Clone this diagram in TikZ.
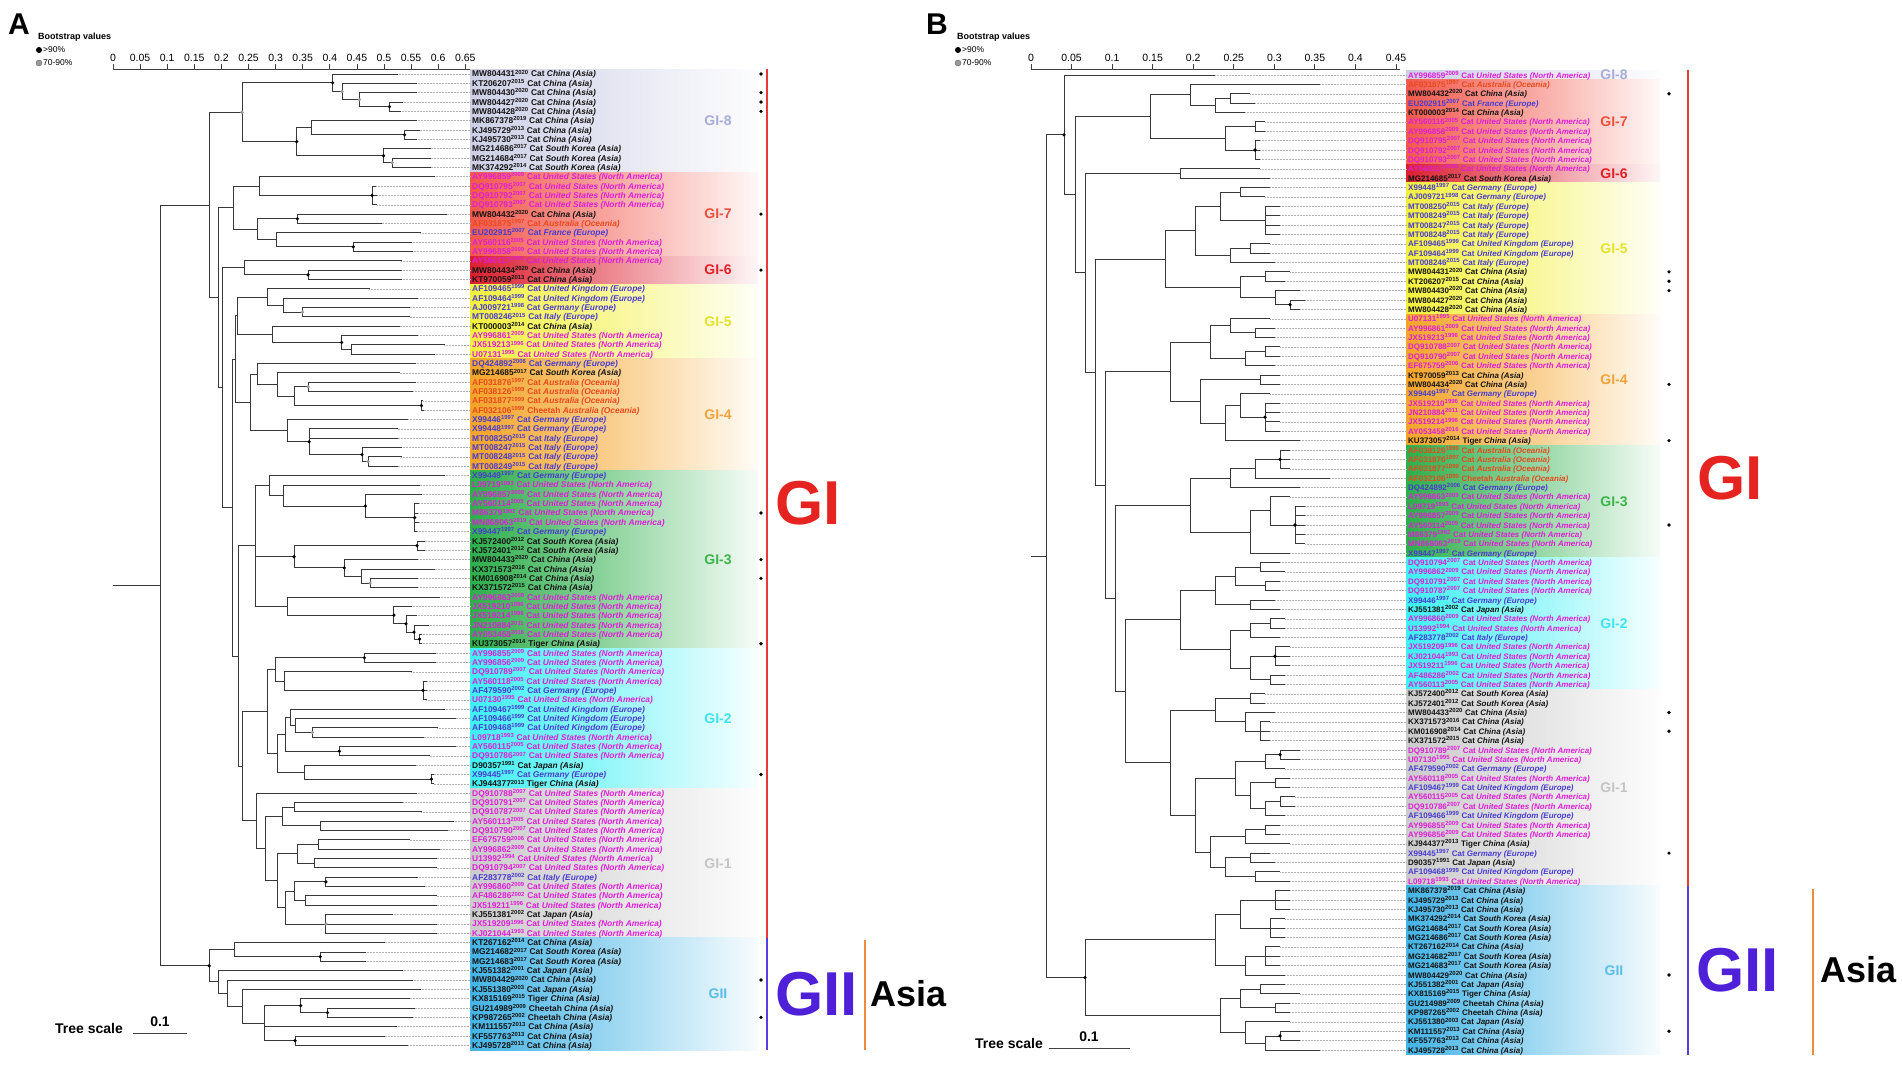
\documentclass[tikz,border=0pt]{standalone}
\usepackage{fontspec}
\setmainfont{Liberation Sans}
\usetikzlibrary{calc}
\definecolor{cA}{HTML}{141414}
\definecolor{cN}{HTML}{E01ED8}
\definecolor{cE}{HTML}{4A3CCF}
\definecolor{cO}{HTML}{E84A1C}
\definecolor{bg8}{HTML}{CDCFE6}
\definecolor{bg7}{HTML}{F2584C}
\definecolor{bg6}{HTML}{DC1E2E}
\definecolor{bg5}{HTML}{F2F03C}
\definecolor{bg4}{HTML}{F4A428}
\definecolor{bg3}{HTML}{2DAE4B}
\definecolor{bg2}{HTML}{3CF0F4}
\definecolor{bg1}{HTML}{CBCBCB}
\definecolor{bgII}{HTML}{43B3E5}
\definecolor{tg8}{HTML}{A9ABD8}
\definecolor{tg7}{HTML}{F0503A}
\definecolor{tg6}{HTML}{E32026}
\definecolor{tg5}{HTML}{E4E22A}
\definecolor{tg4}{HTML}{F2A33A}
\definecolor{tg3}{HTML}{3DB54A}
\definecolor{tg2}{HTML}{3DE4F0}
\definecolor{tg1}{HTML}{C4C4C4}
\definecolor{tgII}{HTML}{5ABCE8}
\definecolor{gired}{HTML}{E52421}
\definecolor{giipur}{HTML}{4E20D8}
\definecolor{lnred}{HTML}{E8383A}
\definecolor{lnblue}{HTML}{5A3FE0}
\definecolor{lnorange}{HTML}{F08A3C}
\def\contA{Asia}\def\contN{North America}\def\contE{Europe}\def\contO{Oceania}
\newcount\rc
\newcommand\la[5]{\global\advance\rc by 1\relax
  \pgfmathsetmacro\ry{\ly+(\the\rc-1)*\ldy}%
  \node[lab,text=c#5] (T\pn\the\rc) at (\lx,\ry+3) {#1\textsuperscript{#2} #3 \textit{#4 (\csname cont#5\endcsname)}};
  \coordinate (E\pn\the\rc) at (\lx-1.5,\ry);}
\newcommand\leaves[2]{\foreach \t [count=\i] in {#2}{%
  \pgfmathsetmacro\ry{\ly+(\i-1)*\ldy}%
  \coordinate (#1\i) at (\t,\ry);
  \draw[lead] (#1\i) -- (E#1\i);}}
\newcommand\clade[3]{%
  \foreach \c [count=\i] in {#3}{\ifnum\i=1 \xdef\cfirst{\c}\fi\xdef\clast{\c}}%
  \coordinate (tmpx) at (#2,0);
  \coordinate (tmpm) at ($(\cfirst)!0.5!(\clast)$);
  \coordinate (#1) at (tmpx |- tmpm);
  \draw[br] (tmpx |- \cfirst) -- (tmpx |- \clast);
  \foreach \c in {#3}{\draw[br] (tmpx |- \c) -- (\c);}}
\newcommand\band[4]{%
  \pgfmathsetmacro\bt{\ly+(#1-1.5)*\ldy}\pgfmathsetmacro\bb{\ly+(#2-0.5)*\ldy}%
  \shade[left color=#3,right color=#3!4] (\lx-2,\bt) rectangle (#4,\bb);}
\newcommand\glab[5]{\node[grp,text=#4] (G\pn#5) at (#3,{\ly+((#1+#2)/2-1)*\ldy}) {#5};}
\newcommand\bsd[1]{\foreach \n in {#1}{\fill[black] (\n) circle[radius=1.8pt];}}
\newcommand\bsg[1]{\foreach \n in {#1}{\fill[black!40] (\n) circle[radius=1.8pt];}}
\newcommand\coldots[2]{\foreach \r in {#2}{\fill[black] (#1,{\ly+(\r-1)*\ldy}) circle[radius=1.8pt];}}
\begin{document}
\begin{tikzpicture}[x=1pt,y=-1pt,
  br/.style={draw=black!78,line width=0.9pt,line cap=rect},
  lead/.style={draw=black!30,densely dotted,line width=0.5pt},
  lab/.style={anchor=base west,inner sep=0pt,font=\fontsize{8.4}{9}\selectfont\bfseries},
  labB/.style={anchor=base west,inner sep=0pt,font=\fontsize{8}{9}\selectfont\bfseries},
  grp/.style={font=\fontsize{14}{14}\selectfont\bfseries,inner sep=0pt},
  big/.style={font=\fontsize{62}{62}\selectfont\bfseries,inner sep=0pt,anchor=west},
  asia/.style={font=\fontsize{36}{36}\selectfont\bfseries,inner sep=0pt,anchor=west},
  tick/.style={font=\fontsize{10.5}{10.5}\selectfont,inner sep=0pt},
  leg/.style={font=\fontsize{8.5}{8.5}\selectfont,inner sep=0pt,anchor=west},
  legt/.style={font=\fontsize{9}{9}\selectfont\bfseries,inner sep=0pt,anchor=west},
  letter/.style={font=\fontsize{30}{30}\selectfont\bfseries,inner sep=0pt},
  tsc/.style={font=\fontsize{14}{14}\selectfont\bfseries,inner sep=0pt}]
\useasboundingbox (0,0) rectangle (1902,1065);
\fill[white] (0,0) rectangle (1902,1065);

%================ PANEL A =================
\def\pn{a}\def\lx{472}\def\ly{74}\def\ldy{9.34}\global\rc=0\relax
\node[letter] (letA) at (19,24) {A};
\node[legt] (bvA) at (38,37) {Bootstrap values};
\node[circle,fill=black,inner sep=0pt,minimum size=6pt] (dkA) at (39,50) {};
\node[leg] (dkAt) at (43,50) {>90\%};
\node[circle,fill=black!40,draw=black!60,inner sep=0pt,minimum size=6pt] (dgA) at (39,63) {};
\node[leg] (dgAt) at (43,63) {70-90\%};
\coordinate (axA0) at (113,69);
\coordinate (axAe) at (470,69);
\draw[black!75,line width=0.8pt] (axA0) -- (axAe);
\foreach \v/\t in {0/0,0.05/0.05,0.1/0.1,0.15/0.15,0.2/0.2,0.25/0.25,0.3/0.3,0.35/0.35,0.4/0.4,0.45/0.45,0.5/0.5,0.55/0.55,0.6/0.6,0.65/0.65}{
  \draw[black!75,line width=0.8pt] (113+\v*542,69) -- (113+\v*542,64);
  \node[tick] at (113+\v*542,58) {\t};}
\node[tsc,anchor=west] (tsA) at (55,1028) {Tree scale};
\coordinate (tsA1) at (133,1033); \coordinate (tsA2) at (187,1033);
\draw[black!75,line width=1pt] (tsA1) -- (tsA2);
\node[tsc] (tsAv) at (160,1022) {0.1};

\band{1}{11}{bg8}{758}\band{12}{20}{bg7}{758}\band{21}{23}{bg6}{758}
\band{24}{31}{bg5}{758}\band{32}{43}{bg4}{758}\band{44}{62}{bg3}{758}
\band{63}{77}{bg2}{758}\band{78}{93}{bg1}{758}\band{94}{105}{bgII}{758}

\la{MW804431}{2020}{Cat}{China}{A}
\la{KT206207}{2015}{Cat}{China}{A}
\la{MW804430}{2020}{Cat}{China}{A}
\la{MW804427}{2020}{Cat}{China}{A}
\la{MW804428}{2020}{Cat}{China}{A}
\la{MK867378}{2019}{Cat}{China}{A}
\la{KJ495729}{2013}{Cat}{China}{A}
\la{KJ495730}{2013}{Cat}{China}{A}
\la{MG214686}{2017}{Cat}{South Korea}{A}
\la{MG214684}{2017}{Cat}{South Korea}{A}
\la{MK374292}{2014}{Cat}{South Korea}{A}
\la{AY996859}{2009}{Cat}{United States}{N}
\la{DQ910795}{2007}{Cat}{United States}{N}
\la{DQ910792}{2007}{Cat}{United States}{N}
\la{DQ910793}{2007}{Cat}{United States}{N}
\la{MW804432}{2020}{Cat}{China}{A}
\la{AF031875}{1997}{Cat}{Australia}{O}
\la{EU202915}{2007}{Cat}{France}{E}
\la{AY560116}{2005}{Cat}{United States}{N}
\la{AY996858}{2009}{Cat}{United States}{N}
\la{AY560117}{2005}{Cat}{United States}{N}
\la{MW804434}{2020}{Cat}{China}{A}
\la{KT970059}{2013}{Cat}{China}{A}
\la{AF109465}{1999}{Cat}{United Kingdom}{E}
\la{AF109464}{1999}{Cat}{United Kingdom}{E}
\la{AJ009721}{1998}{Cat}{Germany}{E}
\la{MT008246}{2015}{Cat}{Italy}{E}
\la{KT000003}{2014}{Cat}{China}{A}
\la{AY996861}{2009}{Cat}{United States}{N}
\la{JX519213}{1996}{Cat}{United States}{N}
\la{U07131}{1995}{Cat}{United States}{N}
\la{DQ424892}{2006}{Cat}{Germany}{E}
\la{MG214685}{2017}{Cat}{South Korea}{A}
\la{AF031876}{1997}{Cat}{Australia}{O}
\la{AF038126}{1999}{Cat}{Australia}{O}
\la{AF031877}{1999}{Cat}{Australia}{O}
\la{AF032106}{1999}{Cheetah}{Australia}{O}
\la{X99446}{1997}{Cat}{Germany}{E}
\la{X99448}{1997}{Cat}{Germany}{E}
\la{MT008250}{2015}{Cat}{Italy}{E}
\la{MT008247}{2015}{Cat}{Italy}{E}
\la{MT008248}{2015}{Cat}{Italy}{E}
\la{MT008249}{2015}{Cat}{Italy}{E}
\la{X99449}{1997}{Cat}{Germany}{E}
\la{L09719}{1993}{Cat}{United States}{N}
\la{AY996857}{2009}{Cat}{United States}{N}
\la{AY560114}{2005}{Cat}{United States}{N}
\la{M86379}{1992}{Cat}{United States}{N}
\la{MN868063}{2019}{Cat}{United States}{N}
\la{X99447}{1997}{Cat}{Germany}{E}
\la{KJ572400}{2012}{Cat}{South Korea}{A}
\la{KJ572401}{2012}{Cat}{South Korea}{A}
\la{MW804433}{2020}{Cat}{China}{A}
\la{KX371573}{2016}{Cat}{China}{A}
\la{KM016908}{2014}{Cat}{China}{A}
\la{KX371572}{2015}{Cat}{China}{A}
\la{AY996863}{2009}{Cat}{United States}{N}
\la{JX519210}{1996}{Cat}{United States}{N}
\la{JX519214}{1996}{Cat}{United States}{N}
\la{JN210884}{2011}{Cat}{United States}{N}
\la{AY053458}{2016}{Cat}{United States}{N}
\la{KU373057}{2014}{Tiger}{China}{A}
\la{AY996855}{2009}{Cat}{United States}{N}
\la{AY996856}{2009}{Cat}{United States}{N}
\la{DQ910789}{2007}{Cat}{United States}{N}
\la{AY560118}{2005}{Cat}{United States}{N}
\la{AF479590}{2002}{Cat}{Germany}{E}
\la{U07130}{1995}{Cat}{United States}{N}
\la{AF109467}{1999}{Cat}{United Kingdom}{E}
\la{AF109466}{1999}{Cat}{United Kingdom}{E}
\la{AF109468}{1999}{Cat}{United Kingdom}{E}
\la{L09718}{1993}{Cat}{United States}{N}
\la{AY560115}{2005}{Cat}{United States}{N}
\la{DQ910786}{2007}{Cat}{United States}{N}
\la{D90357}{1991}{Cat}{Japan}{A}
\la{X99445}{1997}{Cat}{Germany}{E}
\la{KJ944377}{2013}{Tiger}{China}{A}
\la{DQ910788}{2007}{Cat}{United States}{N}
\la{DQ910791}{2007}{Cat}{United States}{N}
\la{DQ910787}{2007}{Cat}{United States}{N}
\la{AY560113}{2005}{Cat}{United States}{N}
\la{DQ910790}{2007}{Cat}{United States}{N}
\la{EF675759}{2006}{Cat}{United States}{N}
\la{AY996862}{2009}{Cat}{United States}{N}
\la{U13992}{1994}{Cat}{United States}{N}
\la{DQ910794}{2007}{Cat}{United States}{N}
\la{AF283778}{2002}{Cat}{Italy}{E}
\la{AY996860}{2009}{Cat}{United States}{N}
\la{AF486286}{2002}{Cat}{United States}{N}
\la{JX519211}{1996}{Cat}{United States}{N}
\la{KJ551381}{2002}{Cat}{Japan}{A}
\la{JX519209}{1996}{Cat}{United States}{N}
\la{KJ021044}{1993}{Cat}{United States}{N}
\la{KT267162}{2014}{Cat}{China}{A}
\la{MG214682}{2017}{Cat}{South Korea}{A}
\la{MG214683}{2017}{Cat}{South Korea}{A}
\la{KJ551382}{2001}{Cat}{Japan}{A}
\la{MW804429}{2020}{Cat}{China}{A}
\la{KJ551380}{2003}{Cat}{Japan}{A}
\la{KX815169}{2015}{Tiger}{China}{A}
\la{GU214989}{2009}{Cheetah}{China}{A}
\la{KP987265}{2002}{Cheetah}{China}{A}
\la{KM111557}{2013}{Cat}{China}{A}
\la{KF557763}{2013}{Cat}{China}{A}
\la{KJ495728}{2013}{Cat}{China}{A}

\leaves{a}{397.2,416.4,416.4,402.3,400.2,416.4,419.7,416.4,430.8,430.8,430.8,
434.1,376,377,377,446.5,381.8,420.4,411.3,412.3,
401.3,401.3,401.3,
369.4,418,409.7,409.7,399.6,418,444.2,434.1,
415.4,399.6,415.4,413,423,423.7,408,397.9,397.9,401.3,401.3,397.9,
444.2,419.7,421.4,419,418,419,417,424.7,424.7,418,434.8,418,418,439.2,411.3,416.4,428.1,421.4,421.4,
435.8,435.8,411.3,427,427,426.4,444.2,455.9,437.1,423.7,455.9,429.8,415.7,433.5,433.5,
416.4,403,421.4,453.2,447.5,409.7,439.8,436.5,436.5,417.4,424.7,436.5,436.5,392.2,436.5,436.5,
384.5,365.4,365.4,402.3,412.3,420.4,409.7,414.7,413,396.2,384.5,408}

% GI-8
\clade{n880}{389.5}{a4,a5}
\clade{n790}{359.4}{a3,n880}
\clade{n738}{342}{a2,n790}
\clade{n710}{332.6}{a1,n738}
\clade{n925}{404.6}{a7,a8}
\clade{n648}{311.8}{a6,n925}
\clade{n888}{392.2}{a10,a11}
\clade{n862}{383.5}{a9,n888}
\clade{n603}{296.7}{n648,n862}
\clade{g8a}{242}{n710,n603}
% GI-7
\clade{n828}{372.1}{a13,a14,a15}
\clade{n493}{259.8}{a12,n828}
\clade{n605}{297.4}{a16,a17}
\clade{n772}{353.3}{a19,a20}
\clade{n543}{276.6}{a18,n772}
\clade{n485b}{257.1}{n605,n543}
\clade{g7a}{233.7}{n493,n485b}
% GI-6
\clade{n637}{308.1}{a22,a23}
\clade{g6a}{244.7}{a21,n637}
% GI-5
\clade{n620}{302.4}{a26,a27}
\clade{n562}{283}{a25,n620}
\clade{n515}{267.2}{a24,n562}
\clade{n765}{351}{a30,a31}
\clade{n737}{341.6}{a29,n765}
\clade{n530}{272.2}{a28,n737}
\clade{g5a}{237}{n515,n530}
% GI-4
\clade{n975}{421.4}{a36,a37}
\clade{n637b}{308.1}{a34,a35}
\clade{n595}{294}{n637b,n975}
\clade{n545}{277.3}{a33,n595}
\clade{n485c}{257.1}{a32,n545}
\clade{n815}{368}{a42,a43}
\clade{n810}{362}{a41,n815}
\clade{n640}{309.1}{a39,a40,n810}
\clade{n575}{287.3}{a38,n640}
\clade{g4a}{250.4}{n485c,n575}
% GI-3
\clade{n955}{414.7}{a47,a48,a49,a50}
\clade{n808}{365.4}{a46,n955}
\clade{n562c}{283}{a45,n808}
\clade{n522}{269.5}{a44,n562c}
\clade{n962}{417}{a51,a52}
\clade{n822}{370.1}{a55,a56}
\clade{n795}{361}{a54,n822}
\clade{n745}{344.3}{a53,n795}
\clade{n595c}{294}{n962,n745}
\clade{n972}{419.6}{a61,a62}
\clade{n960}{414}{a60,n972}
\clade{n935}{406}{a59,n960}
\clade{n893}{393.9}{a58,n935}
\clade{n575c}{287.3}{a57,n893}
\clade{g3a}{255.5}{n522,n595c,n575c}
% GI-2
\clade{n805}{364.4}{a63,a64}
\clade{n980}{423}{a66,a67,a68}
\clade{n565}{284}{a65,n980}
\clade{n540}{275.6}{n805,n565}
\clade{n650}{312.4}{a71,a72}
\clade{n600}{295.7}{a70,n650}
\clade{n597}{290}{a69,n600}
\clade{n730}{339.3}{a73,a74}
\clade{n570}{285.6}{n597,n730}
\clade{n1005}{431.4}{a76,a77}
\clade{n627}{304.7}{a75,n1005}
\clade{n545b}{277.3}{n570,n627}
\clade{g2a}{267.2}{n540,n545b}
% GI-1
\clade{c1}{294.7}{a79,a80}
\clade{c2}{320.8}{a81,a82}
\clade{c3}{282.3}{c1,c2}
\clade{c4}{318.5}{a83,a84}
\clade{c5}{314.1}{a85,a86}
\clade{c6}{297}{c4,c5}
\clade{c7}{325.9}{a87,a88}
\clade{c8}{305.1}{a89,a90}
\clade{c9}{294.7}{c7,c8}
\clade{c10}{325.9}{a91,a92,a93}
\clade{c11}{285.6}{c9,c10}
\clade{c12}{277.3}{c6,c11}
\clade{c13}{265.5}{c3,c12}
\clade{g1a}{256.5}{a78,c13}
% backbone
\clade{Zb}{242}{g2a,g1a}
\clade{Yb}{238}{g3a,Zb}
\clade{Xb}{235}{g5a,g4a}
\clade{B3}{232}{Xb,Yb}
\clade{B2}{222}{g6a,B3}
\clade{B1}{218}{g7a,B2}
\clade{N1}{209.2}{g8a,B1}
% GII
\clade{n673}{320.2}{a95,a96}
\clade{n418}{234.7}{a94,n673}
\clade{m1}{327.5}{a101,a102}
\clade{m2}{300.7}{a100,m1}
\clade{m3}{295}{a104,a105}
\clade{m4}{264.8}{m2,a103,m3}
\clade{m6}{242}{a99,m4}
\clade{m7}{227}{a98,m6}
\clade{m8}{218}{a97,m7}
\clade{gIIa}{209.2}{n418,m8}
\clade{rootA}{160.6}{N1,gIIa}
\draw[br] (rootA) -- (rootA -| axA0);
\bsd{n710,n880,n925,n603,n862,n828,n605,n772,n637,n737,n975,n640,n810,n808,n955,n595c,n745,n962,n893,n935,n960,n972,n805,n980,n1005,n730,c7,m1,m2,m3,gIIa,n673}
\bsg{n738,n790,n888,n620,n637b,n815,n822,n650,c10,g8a}

\glab{1}{11}{718}{tg8}{GI-8}
\glab{12}{20}{718}{tg7}{GI-7}
\glab{21}{23}{718}{tg6}{GI-6}
\glab{24}{31}{718}{tg5}{GI-5}
\glab{32}{43}{718}{tg4}{GI-4}
\glab{44}{62}{718}{tg3}{GI-3}
\glab{63}{77}{718}{tg2}{GI-2}
\glab{78}{93}{718}{tg1}{GI-1}
\glab{94}{105}{718}{tgII}{GII}
\coldots{761}{1,3,4,5,16,22,48,53,55,62,76,98,102}
\coordinate (rA1) at (767,69.3); \coordinate (rA2) at (767,938);
\coordinate (rA3) at (767,1050);
\coordinate (oA1) at (865,940); \coordinate (oA2) at (865,1050);
\draw[lnred,line width=2pt] (rA1) -- (rA2);
\draw[lnblue,line width=2pt] (rA2) -- (rA3);
\draw[lnorange,line width=2pt] (oA1) -- (oA2);
\node[big,text=gired] (GIA) at (775,503) {GI};
\node[big,text=giipur] (GIIA) at (775,994) {GII};
\node[asia] (asiaA) at (870,994) {Asia};

%================ PANEL B =================
\tikzset{lab/.style={labB}}
\def\pn{b}\def\lx{1408}\def\ly{75}\def\ldy{9.375}\global\rc=0\relax
\node[letter] (letB) at (937,24) {B};
\node[legt] (bvB) at (957,37) {Bootstrap values};
\node[circle,fill=black,inner sep=0pt,minimum size=6pt] (dkB) at (958,50) {};
\node[leg] (dkBt) at (962,50) {>90\%};
\node[circle,fill=black!40,draw=black!60,inner sep=0pt,minimum size=6pt] (dgB) at (958,63) {};
\node[leg] (dgBt) at (962,63) {70-90\%};
\coordinate (axB0) at (1031,69);
\coordinate (axBe) at (1400,69);
\draw[black!75,line width=0.8pt] (axB0) -- (axBe);
\foreach \v/\t in {0/0,0.05/0.05,0.1/0.1,0.15/0.15,0.2/0.2,0.25/0.25,0.3/0.3,0.35/0.35,0.4/0.4,0.45/0.45}{
  \draw[black!75,line width=0.8pt] (1031+\v*811,69) -- (1031+\v*811,64);
  \node[tick] at (1031+\v*811,58) {\t};}
\node[tsc,anchor=west] (tsB) at (975,1043) {Tree scale};
\coordinate (tsB1) at (1049,1048); \coordinate (tsB2) at (1130,1048);
\draw[black!75,line width=1pt] (tsB1) -- (tsB2);
\node[tsc] (tsBv) at (1089,1037) {0.1};

\band{1}{1}{bg8}{1660}\band{2}{10}{bg7}{1660}\band{11}{12}{bg6}{1660}
\band{13}{26}{bg5}{1660}\band{27}{40}{bg4}{1660}\band{41}{52}{bg3}{1660}
\band{53}{66}{bg2}{1660}\band{67}{87}{bg1}{1660}\band{88}{105}{bgII}{1660}

\la{AY996859}{2009}{Cat}{United States}{N}
\la{AF031875}{1997}{Cat}{Australia}{O}
\la{MW804432}{2020}{Cat}{China}{A}
\la{EU202915}{2007}{Cat}{France}{E}
\la{KT000003}{2014}{Cat}{China}{A}
\la{AY560116}{2005}{Cat}{United States}{N}
\la{AY996858}{2009}{Cat}{United States}{N}
\la{DQ910795}{2007}{Cat}{United States}{N}
\la{DQ910792}{2007}{Cat}{United States}{N}
\la{DQ910793}{2007}{Cat}{United States}{N}
\la{AY560117}{2005}{Cat}{United States}{N}
\la{MG214685}{2017}{Cat}{South Korea}{A}
\la{X99448}{1997}{Cat}{Germany}{E}
\la{AJ009721}{1998}{Cat}{Germany}{E}
\la{MT008250}{2015}{Cat}{Italy}{E}
\la{MT008249}{2015}{Cat}{Italy}{E}
\la{MT008247}{2015}{Cat}{Italy}{E}
\la{MT008248}{2015}{Cat}{Italy}{E}
\la{AF109465}{1999}{Cat}{United Kingdom}{E}
\la{AF109464}{1999}{Cat}{United Kingdom}{E}
\la{MT008246}{2015}{Cat}{Italy}{E}
\la{MW804431}{2020}{Cat}{China}{A}
\la{KT206207}{2015}{Cat}{China}{A}
\la{MW804430}{2020}{Cat}{China}{A}
\la{MW804427}{2020}{Cat}{China}{A}
\la{MW804428}{2020}{Cat}{China}{A}
\la{U07131}{1995}{Cat}{United States}{N}
\la{AY996861}{2009}{Cat}{United States}{N}
\la{JX519213}{1996}{Cat}{United States}{N}
\la{DQ910788}{2007}{Cat}{United States}{N}
\la{DQ910790}{2007}{Cat}{United States}{N}
\la{EF675759}{2006}{Cat}{United States}{N}
\la{KT970059}{2013}{Cat}{China}{A}
\la{MW804434}{2020}{Cat}{China}{A}
\la{X99449}{1997}{Cat}{Germany}{E}
\la{JX519210}{1996}{Cat}{United States}{N}
\la{JN210884}{2011}{Cat}{United States}{N}
\la{JX519214}{1996}{Cat}{United States}{N}
\la{AY053458}{2016}{Cat}{United States}{N}
\la{KU373057}{2014}{Tiger}{China}{A}
\la{AF038126}{1999}{Cat}{Australia}{O}
\la{AF031876}{1997}{Cat}{Australia}{O}
\la{AF031877}{1999}{Cat}{Australia}{O}
\la{AF032106}{1999}{Cheetah}{Australia}{O}
\la{DQ424892}{2006}{Cat}{Germany}{E}
\la{AY996863}{2009}{Cat}{United States}{N}
\la{L09719}{1993}{Cat}{United States}{N}
\la{AY996857}{2009}{Cat}{United States}{N}
\la{AY560114}{2005}{Cat}{United States}{N}
\la{M86379}{1992}{Cat}{United States}{N}
\la{MN868063}{2019}{Cat}{United States}{N}
\la{X99447}{1997}{Cat}{Germany}{E}
\la{DQ910794}{2007}{Cat}{United States}{N}
\la{AY996862}{2009}{Cat}{United States}{N}
\la{DQ910791}{2007}{Cat}{United States}{N}
\la{DQ910787}{2007}{Cat}{United States}{N}
\la{X99446}{1997}{Cat}{Germany}{E}
\la{KJ551381}{2002}{Cat}{Japan}{A}
\la{AY996860}{2009}{Cat}{United States}{N}
\la{U13992}{1994}{Cat}{United States}{N}
\la{AF283778}{2002}{Cat}{Italy}{E}
\la{JX519209}{1996}{Cat}{United States}{N}
\la{KJ021044}{1993}{Cat}{United States}{N}
\la{JX519211}{1996}{Cat}{United States}{N}
\la{AF486286}{2002}{Cat}{United States}{N}
\la{AY560113}{2005}{Cat}{United States}{N}
\la{KJ572400}{2012}{Cat}{South Korea}{A}
\la{KJ572401}{2012}{Cat}{South Korea}{A}
\la{MW804433}{2020}{Cat}{China}{A}
\la{KX371573}{2016}{Cat}{China}{A}
\la{KM016908}{2014}{Cat}{China}{A}
\la{KX371572}{2015}{Cat}{China}{A}
\la{DQ910789}{2007}{Cat}{United States}{N}
\la{U07130}{1995}{Cat}{United States}{N}
\la{AF479590}{2002}{Cat}{Germany}{E}
\la{AY560118}{2005}{Cat}{United States}{N}
\la{AF109467}{1999}{Cat}{United Kingdom}{E}
\la{AY560115}{2005}{Cat}{United States}{N}
\la{DQ910786}{2007}{Cat}{United States}{N}
\la{AF109466}{1999}{Cat}{United Kingdom}{E}
\la{AY996855}{2009}{Cat}{United States}{N}
\la{AY996856}{2009}{Cat}{United States}{N}
\la{KJ944377}{2013}{Tiger}{China}{A}
\la{X99445}{1997}{Cat}{Germany}{E}
\la{D90357}{1991}{Cat}{Japan}{A}
\la{AF109468}{1999}{Cat}{United Kingdom}{E}
\la{L09718}{1993}{Cat}{United States}{N}
\la{MK867378}{2019}{Cat}{China}{A}
\la{KJ495729}{2013}{Cat}{China}{A}
\la{KJ495730}{2013}{Cat}{China}{A}
\la{MK374292}{2014}{Cat}{South Korea}{A}
\la{MG214684}{2017}{Cat}{South Korea}{A}
\la{MG214686}{2017}{Cat}{South Korea}{A}
\la{KT267162}{2014}{Cat}{China}{A}
\la{MG214682}{2017}{Cat}{South Korea}{A}
\la{MG214683}{2017}{Cat}{South Korea}{A}
\la{MW804429}{2020}{Cat}{China}{A}
\la{KJ551382}{2001}{Cat}{Japan}{A}
\la{KX815169}{2015}{Tiger}{China}{A}
\la{GU214989}{2009}{Cheetah}{China}{A}
\la{KP987265}{2002}{Cheetah}{China}{A}
\la{KJ551380}{2003}{Cat}{Japan}{A}
\la{KM111557}{2013}{Cat}{China}{A}
\la{KF557763}{2013}{Cat}{China}{A}
\la{KJ495728}{2013}{Cat}{China}{A}

\leaves{b}{1215,1320,1250,1255,1245,1265,1265,1260,1260,1260,
1260,1270,
1270,1265,1280,1280,1280,1280,1270,1270,1275,1290,1285,1300,1305,1300,
1270,1275,1275,1280,1280,1275,1280,1280,1270,1280,1280,1280,1280,1300,
1290,1290,1290,1330,1300,1290,1305,1305,1305,1305,1305,1290,
1280,1285,1280,1280,1275,1280,1285,1285,1280,1290,1290,1290,1285,1285,
1265,1265,1275,1270,1270,1270,1300,1300,1285,1290,1290,1295,1295,1285,1280,1280,1290,1270,1275,1280,1290,
1290,1290,1290,1285,1285,1285,1280,1280,1280,1285,1285,1300,1290,1290,1290,1300,1300,1320}

\clade{q1}{1230}{b3,b4}
\clade{q2}{1215}{q1,b5}
\clade{q3}{1190}{b2,q2}
\clade{q4}{1255}{b6,b7}
\clade{q5}{1255}{b8,b9,b10}
\clade{q6}{1225}{q4,q5}
\clade{g7b}{1150}{q3,q6}
\clade{g6b}{1180}{b11,b12}
\clade{q7}{1240}{b13,b14}
\clade{q8}{1265}{b15,b16,b17,b18}
\clade{q9}{1220}{q7,q8}
\clade{q10}{1250}{b19,b20}
\clade{q11}{1230}{q10,b21}
\clade{q12}{1195}{q9,q11}
\clade{q13}{1265}{b22,b23}
\clade{q14}{1290}{b25,b26}
\clade{q15}{1275}{b24,q14}
\clade{q16}{1240}{q13,q15}
\clade{g5b}{1165}{q12,q16}
\clade{q17}{1255}{b28,b29}
\clade{q18}{1230}{b27,q17}
\clade{q19}{1265}{b30,b31}
\clade{q20}{1245}{q19,b32}
\clade{q21}{1210}{q18,q20}
\clade{q22}{1260}{b33,b34}
\clade{q23}{1265}{b36,b37,b38,b39}
\clade{q24}{1240}{b35,q23}
\clade{q25}{1225}{q24,b40}
\clade{q26}{1200}{q22,q25}
\clade{g4b}{1170}{q21,q26}
\clade{q27}{1280}{b41,b42,b43}
\clade{q28}{1255}{q27,b44}
\clade{q29}{1230}{q28,b45}
\clade{q30}{1295}{b47,b48,b49,b50,b51}
\clade{q31}{1270}{b46,q30}
\clade{q32}{1250}{q31,b52}
\clade{g3b}{1190}{q29,q32}
\clade{q33}{1260}{b53,b54}
\clade{q34}{1265}{b55,b56}
\clade{q35}{1235}{q33,q34}
\clade{q36}{1250}{b57,b58}
\clade{q37}{1215}{q35,q36}
\clade{q38}{1270}{b59,b60}
\clade{q39}{1250}{q38,b61}
\clade{q40}{1275}{b62,b63,b64}
\clade{q41}{1270}{b65,b66}
\clade{q42}{1250}{q40,q41}
\clade{q43}{1230}{q39,q42}
\clade{g2b}{1180}{q37,q43}
\clade{q44}{1250}{b67,b68}
\clade{q45}{1260}{b70,b71,b72}
\clade{q46}{1245}{b69,q45}
\clade{q47}{1215}{q44,q46}
\clade{q48}{1280}{b73,b74}
\clade{q49}{1265}{q48,b75}
\clade{q50}{1275}{b76,b77}
\clade{q51}{1280}{b78,b79}
\clade{q52}{1265}{q51,b80}
\clade{q53}{1250}{q50,q52}
\clade{q54}{1235}{q49,q53}
\clade{q55}{1265}{b81,b82}
\clade{q56}{1245}{q55,b83}
\clade{q57}{1250}{b84,b85}
\clade{q58}{1255}{b86,b87}
\clade{q59}{1225}{q57,q58}
\clade{q60}{1210}{q56,q59}
\clade{q61}{1195}{q54,q60}
\clade{g1b}{1170}{q47,q61}
\clade{q62}{1275}{b88,b89,b90}
\clade{q63}{1270}{b91,b92,b93}
\clade{q64}{1240}{q62,q63}
\clade{q65}{1265}{b94,b95,b96}
\clade{q66}{1245}{q65,b97}
\clade{q67}{1215}{q64,q66}
\clade{q68}{1260}{b98,b99}
\clade{q69}{1275}{b100,b101}
\clade{q70}{1240}{q68,q69}
\clade{q71}{1280}{b103,b104}
\clade{q72}{1265}{q71,b105}
\clade{q73}{1245}{b102,q72}
\clade{q74}{1220}{q70,q73}
\clade{gIIb}{1085}{q67,q74}
\clade{R6}{1125}{g2b,g1b}
\clade{R5}{1115}{g3b,R6}
\clade{R4}{1105}{g4b,R5}
\clade{R3}{1095}{g5b,R4}
\clade{R2}{1085}{g6b,R3}
\clade{R1}{1075}{g7b,R2}
\clade{GIb}{1064}{b1,R1}
\clade{rootB}{1046}{GIb,gIIb}
\draw[br] (rootB) -- (rootB -| axB0);
\bsd{q5,q30,q48,q14,q71,q23,q27,q40,GIb,gIIb}

\glab{1}{1}{1614}{tg8}{GI-8}
\glab{2}{10}{1614}{tg7}{GI-7}
\glab{11}{12}{1614}{tg6}{GI-6}
\glab{13}{26}{1614}{tg5}{GI-5}
\glab{27}{40}{1614}{tg4}{GI-4}
\glab{41}{52}{1614}{tg3}{GI-3}
\glab{53}{66}{1614}{tg2}{GI-2}
\glab{67}{87}{1614}{tg1}{GI-1}
\glab{88}{105}{1614}{tgII}{GII}
\coldots{1669}{3,22,23,24,34,40,49,69,71,84,97,103}
\coordinate (rB1) at (1688,70.3); \coordinate (rB2) at (1688,886);
\coordinate (rB3) at (1688,1055);
\coordinate (oB1) at (1813,889); \coordinate (oB2) at (1813,1055);
\draw[lnred,line width=2pt] (rB1) -- (rB2);
\draw[lnblue,line width=2pt] (rB2) -- (rB3);
\draw[lnorange,line width=2pt] (oB1) -- (oB2);
\node[big,text=gired] (GIB) at (1697,478) {GI};
\node[big,text=giipur] (GIIB) at (1696,970) {GII};
\node[asia] (asiaB) at (1820,970) {Asia};
\end{tikzpicture}
\end{document}
